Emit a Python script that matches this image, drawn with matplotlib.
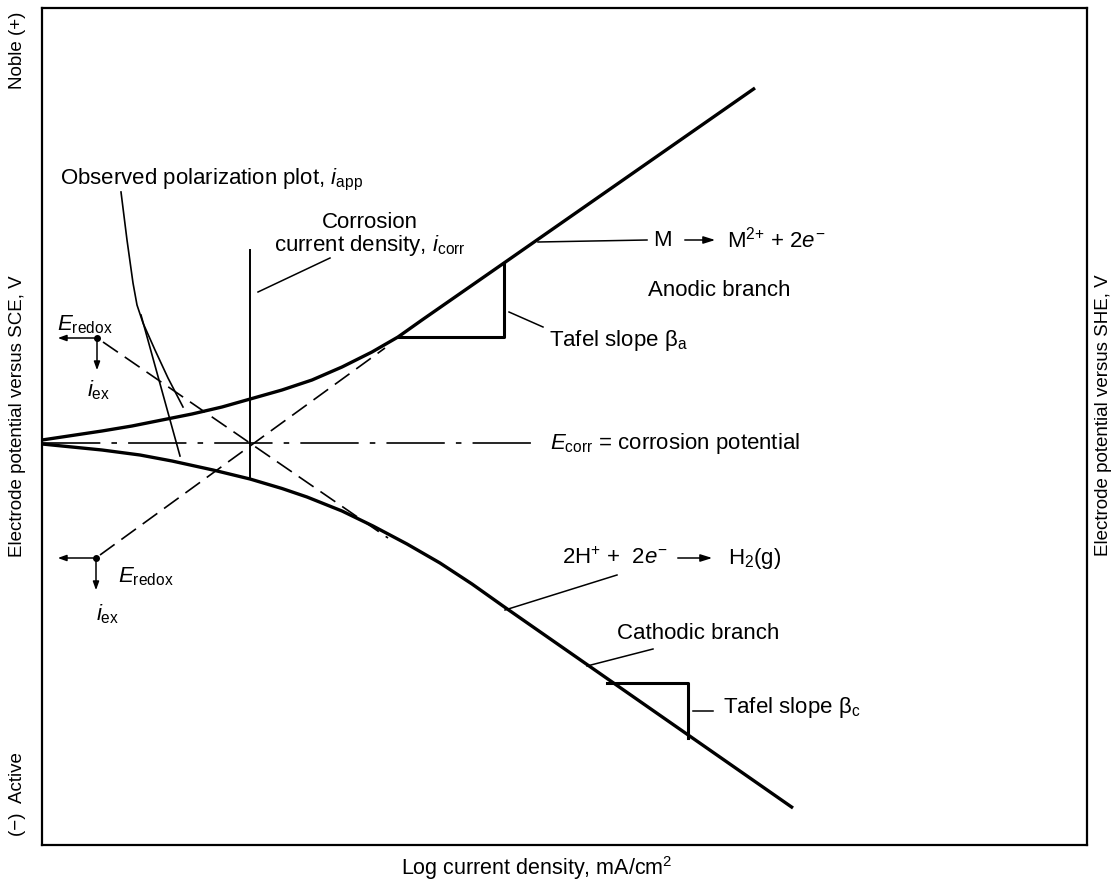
import matplotlib
matplotlib.use("Agg")
import matplotlib.pyplot as plt

plt.rcParams['font.family'] = ['Liberation Sans', 'DejaVu Sans']
plt.rcParams['mathtext.fontset'] = 'custom'
plt.rcParams['mathtext.rm'] = 'Liberation Sans'
plt.rcParams['mathtext.it'] = 'Liberation Sans:italic'
plt.rcParams['lines.scale_dashes'] = False

# x = log current density (arbitrary decades), y = potential relative to E_corr
anodic_x = [0.00, 0.30, 0.60, 0.90, 1.20, 1.50, 1.80, 2.10, 2.40, 2.70, 3.00, 3.30, 3.56, 3.80, 4.62, 7.13]
anodic_y = [0.03, 0.075, 0.12, 0.17, 0.23, 0.29, 0.36, 0.445, 0.53, 0.63, 0.76, 0.91, 1.06, 1.23, 1.80, 3.55]
cathodic_x = [0.00, 0.30, 0.60, 0.98, 1.30, 1.71, 2.08, 2.40, 2.65, 3.00, 3.31, 3.65, 3.98, 4.30, 4.61, 7.51]
cathodic_y = [-0.01, -0.04, -0.07, -0.12, -0.18, -0.27, -0.36, -0.455, -0.54, -0.68, -0.83, -1.01,
              -1.20, -1.41, -1.63, -3.65]

# Tafel extrapolations (dashed)
anodic_tafel_x = [0.58, 3.43]
anodic_tafel_y = [-1.12, 0.95]
cathodic_tafel_x = [0.61, 3.46]
cathodic_tafel_y = [1.01, -0.95]

# observed polarization plot (thin)
iapp_x = [0.79, 0.85, 0.91, 0.95, 1.01, 1.13, 1.26, 1.41]
iapp_y = [2.51, 2.03, 1.60, 1.38, 1.20, 0.93, 0.65, 0.36]
iapp2_x = [0.99, 1.38]
iapp2_y = [1.28, -0.13]

e_corr = 0.0
e_corr_end = 4.90
i_corr = 2.08
i_corr_span = [1.93, -0.34]

# Tafel triangles
tri_a_x = [3.56, 4.62, 4.62]
tri_a_y = [1.06, 1.06, 1.80]
tri_c_x = [5.65, 6.46, 6.46]
tri_c_y = [-2.40, -2.40, -2.95]

# exchange points (E_redox, i_ex)
redox_x = [0.55, 0.54]
redox_y = [1.05, -1.15]

# leader lines: (x0, y0, x1, y1)
leaders = [
    (2.88, 1.85, 2.16, 1.51),
    (4.96, 2.01, 6.05, 2.03),
    (4.67, 1.31, 5.01, 1.16),
    (5.75, -1.32, 4.63, -1.67),
    (6.11, -2.06, 5.45, -2.23),
    (6.51, -2.68, 6.71, -2.68),
]

fs = 16
fs_ax = 13.5

fig = plt.figure(figsize=(11.16, 8.84), dpi=100)
ax = fig.add_axes([42 / 1116, 1 - 845 / 884, 1045 / 1116, 837 / 884])
ax.set_xlim(0, 10.45)
ax.set_ylim(-4.02, 4.35)
ax.set_xticks([])
ax.set_yticks([])
for sp in ax.spines.values():
    sp.set_linewidth(1.6)

k = 'black'
ax.plot(anodic_x, anodic_y, color=k, lw=2.4, solid_capstyle='butt', solid_joinstyle='round')
ax.plot(cathodic_x, cathodic_y, color=k, lw=2.4, solid_capstyle='butt', solid_joinstyle='round')
ax.plot(anodic_tafel_x, anodic_tafel_y, color=k, lw=1.2, ls=(0, (13, 6)))
ax.plot(cathodic_tafel_x, cathodic_tafel_y, color=k, lw=1.2, ls=(0, (13, 6)))
ax.plot(iapp_x, iapp_y, color=k, lw=1.2)
ax.plot(iapp2_x, iapp2_y, color=k, lw=1.2)
ax.plot([0, e_corr_end], [e_corr, e_corr], color=k, lw=1.2, ls=(0, (42, 8, 4, 8)))
ax.plot([i_corr, i_corr], i_corr_span, color=k, lw=1.4)
ax.plot(tri_a_x, tri_a_y, color=k, lw=2.2)
ax.plot(tri_c_x, tri_c_y, color=k, lw=2.2)

for x0, y0, x1, y1 in leaders:
    ax.plot([x0, x1], [y0, y1], color=k, lw=1.1)

for rx, ry in zip(redox_x, redox_y):
    ax.plot(rx, ry, 'o', color=k, ms=4)
    ax.annotate('', xy=(0.13, ry), xytext=(rx, ry),
                arrowprops=dict(arrowstyle='-|>,head_length=0.5,head_width=0.18', color=k, lw=1.1))
    ax.annotate('', xy=(rx, ry - 0.35), xytext=(rx, ry),
                arrowprops=dict(arrowstyle='-|>,head_length=0.5,head_width=0.18', color=k, lw=1.1))

ax.text(0.18, 2.63, r'Observed polarization plot, $i_{\rm app}$', fontsize=fs, va='center')
ax.text(3.28, 2.08, 'Corrosion\n' + r'current density, $i_{\rm corr}$', fontsize=fs,
        ha='center', va='center', multialignment='center', linespacing=1.05)
ax.text(6.11, 2.03, 'M', fontsize=fs, va='center')
ax.annotate('', xy=(6.76, 2.03), xytext=(6.40, 2.03),
            arrowprops=dict(arrowstyle='-|>,head_length=0.7,head_width=0.22', color=k, lw=1.1))
ax.text(6.85, 2.03, r'M$^{2{+}}$ + 2$e^{-}$', fontsize=fs, va='center')
ax.text(6.06, 1.53, 'Anodic branch', fontsize=fs, va='center')
ax.text(5.07, 1.03, 'Tafel slope \u03b2' + r'$_{\rm a}$', fontsize=fs, va='center')
ax.text(5.08, 0.0, r'$E_{\rm corr}$ = corrosion potential', fontsize=fs, va='center')
ax.text(0.15, 1.18, r'$E_{\rm redox}$', fontsize=fs, va='center')
ax.text(0.45, 0.53, r'$i_{\rm ex}$', fontsize=fs, va='center')
ax.text(0.76, -1.34, r'$E_{\rm redox}$', fontsize=fs, va='center')
ax.text(0.54, -1.71, r'$i_{\rm ex}$', fontsize=fs, va='center')
ax.text(5.20, -1.15, r'2H$^{+}$ +  2$e^{-}$', fontsize=fs, va='center')
ax.annotate('', xy=(6.73, -1.15), xytext=(6.33, -1.15),
            arrowprops=dict(arrowstyle='-|>,head_length=0.7,head_width=0.22', color=k, lw=1.1))
ax.text(6.86, -1.15, r'H$_2$(g)', fontsize=fs, va='center')
ax.text(5.75, -1.90, 'Cathodic branch', fontsize=fs, va='center')
ax.text(6.81, -2.64, 'Tafel slope \u03b2' + r'$_{\rm c}$', fontsize=fs, va='center')

fig.text(18 / 1116, 1 - 50 / 884, 'Noble (+)', rotation=90, ha='center', va='center', fontsize=fs_ax)
fig.text(18 / 1116, 1 - 416 / 884, 'Electrode potential versus SCE, V', rotation=90,
         ha='center', va='center', fontsize=fs_ax)
fig.text(18 / 1116, 1 - 794 / 884, '(\u2212)  Active', rotation=90, ha='center', va='center', fontsize=fs_ax)
fig.text(1104 / 1116, 1 - 415 / 884, 'Electrode potential versus SHE, V', rotation=90,
         ha='center', va='center', fontsize=fs_ax)
fig.text(537 / 1116, 1 - 868 / 884, r'Log current density, mA/cm$^2$', ha='center', va='center',
         fontsize=15.5)

fig.savefig('out.png', dpi=100)
